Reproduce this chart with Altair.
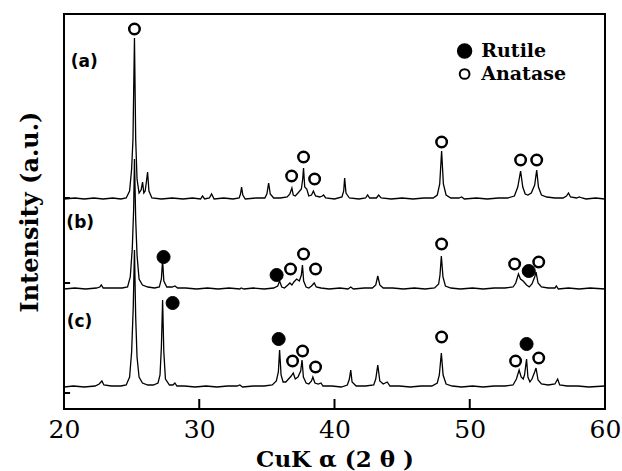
import altair as alt
import pandas as pd

# ---------------- data ----------------
samples = ["(a)", "(b)", "(c)"]
baselines = [210, 120, 22]          # vertical offset of each pattern (a.u.)

theta_a = [20.0, 20.8, 21.5, 22.2, 22.9, 23.6, 24.2, 24.6, 24.85, 25.0, 25.1, 25.21, 25.3, 25.4,
           25.55, 25.7, 25.81, 25.9, 26.0, 26.1, 26.18, 26.28, 26.5, 27.2, 28.0, 28.8, 29.5, 30.1,
           30.24, 30.4, 30.75, 30.91, 31.1, 31.8, 32.5, 32.95, 33.05, 33.13, 33.22, 33.4, 34.2,
           34.85, 35.0, 35.13, 35.25, 35.5, 36.0, 36.5, 36.7, 36.85, 36.95, 37.1, 37.3, 37.55,
           37.65, 37.71, 37.8, 37.95, 38.1, 38.3, 38.44, 38.6, 38.9, 39.1, 39.19, 39.35, 40.0,
           40.55, 40.68, 40.75, 40.85, 41.1, 41.8, 42.3, 42.45, 42.6, 43.1, 43.26, 43.45, 44.2,
           45.0, 45.8, 46.6, 47.3, 47.6, 47.78, 47.92, 48.05, 48.25, 48.6, 49.2, 49.4, 49.6, 50.5,
           51.3, 52.1, 52.4, 52.8, 53.3, 53.55, 53.76, 53.92, 54.1, 54.3, 54.55, 54.8, 54.95,
           55.08, 55.3, 55.7, 56.3, 56.9, 57.15, 57.3, 57.45, 57.9, 58.1, 58.3, 58.6, 59.3, 60.0]
height_a = [0, 1, 0, 1, 0, 1, 0, 1, 8, 30, 60, 161, 60, 20,
            6, 9, 17, 6, 8, 18, 27, 8, 1, 0, 1, 0, 1, 0,
            3, 0, 1, 5, 0, 1, 0, 1, 5, 12, 4, 0, 1,
            1, 5, 16, 5, 1, 1, 2, 5, 11, 4, 3, 6, 10,
            20, 31, 12, 10, 3, 4, 8, 3, 2, 3, 4, 1, 0,
            2, 8, 21, 6, 1, 0, 1, 4, 1, 1, 4, 1, 0,
            1, 0, 1, 1, 4, 15, 48, 15, 4, 1, 1, 2, 0, 1,
            0, 1, 1, 1, 3, 12, 28, 12, 5, 4, 6, 14, 29,
            12, 4, 2, 1, 1, 3, 6, 2, 1, 2, 1, 0, 1, 0]

theta_b = [20.0, 20.8, 21.6, 22.4, 22.65, 22.76, 22.9, 23.6, 24.3, 24.7, 24.9, 25.05, 25.15, 25.21,
           25.3, 25.4, 25.55, 25.8, 26.2, 26.7, 27.05, 27.2, 27.29, 27.38, 27.6, 28.0, 28.2, 28.4,
           29.0, 29.8, 30.6, 31.4, 32.2, 33.0, 33.1, 33.3, 34.0, 34.8, 35.5, 35.8, 35.94, 36.1,
           36.3, 36.55, 36.7, 36.85, 37.0, 37.2, 37.4, 37.55, 37.63, 37.72, 37.9, 38.1, 38.3, 38.5,
           38.65, 39.0, 39.6, 40.4, 41.0, 41.2, 41.4, 42.2, 42.8, 43.05, 43.2, 43.35, 43.6, 44.3,
           45.1, 45.9, 46.7, 47.4, 47.7, 47.8, 47.9, 48.02, 48.2, 48.6, 49.3, 50.2, 51.0, 51.8,
           52.6, 53.2, 53.4, 53.6, 53.75, 53.95, 54.2, 54.4, 54.6, 54.8, 54.9, 55.05, 55.3, 55.8,
           56.3, 56.4, 56.55, 57.3, 58.1, 58.9, 60.0]
height_b = [0, 1, 0, 1, 2, 4, 1, 1, 1, 2, 12, 41, 80, 130,
            70, 34, 10, 4, 2, 1, 2, 10, 29, 8, 2, 2, 3, 1,
            1, 0, 1, 0, 1, 0, 1, 0, 1, 0, 1, 3, 8, 2,
            1, 4, 6, 4, 7, 10, 8, 14, 24, 8, 2, 1, 3, 6,
            2, 1, 0, 1, 0, 2, 0, 1, 1, 4, 13, 4, 1, 1,
            0, 1, 0, 1, 5, 14, 33, 12, 3, 1, 0, 1, 0, 1,
            1, 2, 6, 15, 10, 8, 4, 2, 5, 12, 17, 6, 2, 1,
            1, 3, 0, 1, 0, 1, 0]

theta_c = [20.0, 20.7, 21.5, 22.3, 22.6, 22.8, 22.95, 23.5, 24.2, 24.6, 24.85, 25.0, 25.12, 25.21,
           25.3, 25.4, 25.55, 25.8, 26.2, 26.6, 26.95, 27.1, 27.2, 27.29, 27.38, 27.5, 27.8, 28.05,
           28.2, 28.35, 28.9, 29.7, 30.5, 31.3, 32.1, 32.8, 33.0, 33.2, 34.0, 34.8, 35.4, 35.7,
           35.85, 35.94, 36.05, 36.2, 36.4, 36.6, 36.8, 36.95, 37.1, 37.3, 37.5, 37.6, 37.7, 37.9,
           38.1, 38.3, 38.4, 38.55, 38.8, 39.0, 39.15, 39.8, 40.5, 40.95, 41.1, 41.2, 41.3, 41.6,
           42.3, 42.9, 43.05, 43.2, 43.35, 43.6, 43.9, 44.1, 44.8, 45.6, 46.4, 47.2, 47.6, 47.75,
           47.9, 48.03, 48.25, 48.7, 49.4, 50.2, 51.0, 51.8, 52.6, 53.2, 53.45, 53.65, 53.8, 53.95,
           54.05, 54.2, 54.3, 54.45, 54.6, 54.8, 54.9, 55.05, 55.3, 55.8, 56.3, 56.5, 56.65, 57.2,
           58.0, 58.8, 60.0]
height_c = [0, 1, 0, 1, 3, 6, 2, 1, 1, 2, 10, 35, 80, 137,
            70, 30, 10, 4, 2, 2, 4, 12, 40, 87, 35, 8, 2, 2,
            4, 1, 1, 0, 1, 0, 1, 1, 2, 0, 1, 1, 2, 6,
            15, 37, 12, 5, 5, 8, 11, 14, 8, 10, 16, 27, 10, 4,
            3, 6, 10, 4, 3, 4, 1, 1, 0, 2, 8, 17, 5, 1,
            1, 2, 8, 22, 6, 3, 5, 1, 1, 0, 1, 1, 4, 12,
            34, 12, 3, 1, 0, 1, 0, 1, 1, 2, 8, 17, 10, 8,
            12, 28, 10, 5, 8, 15, 19, 7, 3, 2, 3, 8, 2, 1,
            1, 0, 1]

# phase markers (2θ, a.u.)
anatase_theta = [25.21, 36.83, 37.71, 38.53, 47.92, 53.76, 54.95,
                 36.75, 37.71, 38.6, 47.92, 53.32, 55.1,
                 36.9, 37.64, 38.6, 47.92, 53.39, 55.1]
anatase_int = [380, 233, 252, 230, 267, 249, 249,
               140, 155, 140, 165, 145, 147,
               48, 58, 42, 72, 48, 51]
rutile_theta = [27.36, 35.72, 54.36, 28.03, 35.87, 54.2]
rutile_int = [152, 134, 138, 106, 70, 65]

# panel labels
label_theta = [21.5, 21.2, 21.15]
label_int = [347, 186, 87]

# legend
legend_names = ["Rutile", "Anatase"]
legend_theta = [49.62, 49.62]
legend_int = [358, 335]
legend_text_theta = [50.85, 50.85]

# axis ticks (inward)
x_ticks = [20, 30, 40, 50, 60]
x_inner_ticks = [30, 40, 50]
y_inner_ticks = [211, 126, 16]

# ---------------- tables ----------------
rows = []
for s, base, th, hh in zip(samples, baselines, [theta_a, theta_b, theta_c],
                           [height_a, height_b, height_c]):
    for t, h in zip(th, hh):
        rows.append({"theta": t, "intensity": base + h, "sample": s})
df = pd.DataFrame(rows)

anatase_df = pd.DataFrame({"theta": anatase_theta, "intensity": anatase_int})
rutile_df = pd.DataFrame({"theta": rutile_theta, "intensity": rutile_int})
labels_df = pd.DataFrame({"theta": label_theta, "intensity": label_int, "label": samples})
leg_df = pd.DataFrame({"theta": legend_theta, "intensity": legend_int,
                       "ttheta": legend_text_theta, "name": legend_names})
xt_df = pd.DataFrame({"theta": x_inner_ticks, "y0": [0] * 3, "y1": [10] * 3})
yt_df = pd.DataFrame({"intensity": y_inner_ticks, "x0": [20] * 3, "x1": [20.45] * 3})

xs = alt.Scale(domain=[20, 60], nice=False, zero=False)
ys = alt.Scale(domain=[0, 395], nice=False, zero=False)

x_axis = alt.Axis(values=x_ticks, title="CuK α (2 θ )", grid=False, domain=False,
                  ticks=False, tickSize=0, labelPadding=8, labelFont="DejaVu Serif",
                  labelFontSize=25, labelColor="black", titleFont="DejaVu Serif",
                  titleFontSize=23, titleFontWeight="bold", titleColor="black",
                  titlePadding=6, labelFlush=False)
y_axis = alt.Axis(title="Intensity (a.u.)", grid=False, domain=False, ticks=False,
                  tickSize=0, labels=False, titleFont="DejaVu Serif", titleFontSize=24,
                  titleFontWeight="bold", titleColor="black", titlePadding=22)

lines = alt.Chart(df).mark_line(color="black", strokeWidth=1.3, clip=True).encode(
    x=alt.X("theta:Q", scale=xs, axis=x_axis),
    y=alt.Y("intensity:Q", scale=ys, axis=y_axis),
    detail="sample:N",
)

open_pts = alt.Chart(anatase_df).mark_point(
    shape="circle", fill="white", stroke="black", strokeWidth=2.5, size=110,
    opacity=1, fillOpacity=1).encode(
    x=alt.X("theta:Q", scale=xs), y=alt.Y("intensity:Q", scale=ys))

filled_pts = alt.Chart(rutile_df).mark_point(
    shape="circle", fill="black", stroke="black", strokeWidth=1, size=170,
    opacity=1, fillOpacity=1).encode(
    x=alt.X("theta:Q", scale=xs), y=alt.Y("intensity:Q", scale=ys))

panel_txt = alt.Chart(labels_df).mark_text(
    font="DejaVu Sans", fontWeight="bold", fontSize=17, color="black", align="center",
    baseline="middle").encode(
    x=alt.X("theta:Q", scale=xs), y=alt.Y("intensity:Q", scale=ys), text="label:N")

leg_pts_r = alt.Chart(leg_df.iloc[[0]]).mark_point(
    shape="circle", fill="black", stroke="black", size=180, opacity=1, fillOpacity=1).encode(
    x=alt.X("theta:Q", scale=xs), y=alt.Y("intensity:Q", scale=ys))
leg_pts_a = alt.Chart(leg_df.iloc[[1]]).mark_point(
    shape="circle", fill="white", stroke="black", strokeWidth=2, size=95,
    opacity=1, fillOpacity=1).encode(
    x=alt.X("theta:Q", scale=xs), y=alt.Y("intensity:Q", scale=ys))
leg_txt = alt.Chart(leg_df).mark_text(
    font="DejaVu Serif", fontWeight="bold", fontSize=19, color="black", align="left",
    baseline="middle").encode(
    x=alt.X("ttheta:Q", scale=xs), y=alt.Y("intensity:Q", scale=ys), text="name:N")

xtick_rules = alt.Chart(xt_df).mark_rule(color="black", strokeWidth=2).encode(
    x=alt.X("theta:Q", scale=xs), y=alt.Y("y0:Q", scale=ys), y2="y1:Q")
ytick_rules = alt.Chart(yt_df).mark_rule(color="black", strokeWidth=2).encode(
    y=alt.Y("intensity:Q", scale=ys), x=alt.X("x0:Q", scale=xs), x2="x1:Q")

chart = alt.layer(
    lines, xtick_rules, ytick_rules, open_pts, filled_pts, panel_txt,
    leg_pts_r, leg_pts_a, leg_txt
).properties(
    width=541, height=395,
    autosize=alt.AutoSizeParams(type="none"),
    padding={"left": 64, "top": 14, "right": 17, "bottom": 62},
    background="white",
).configure_view(stroke="black", strokeWidth=2)

chart.save("out.html", embed_options={"renderer": "svg", "actions": False})
